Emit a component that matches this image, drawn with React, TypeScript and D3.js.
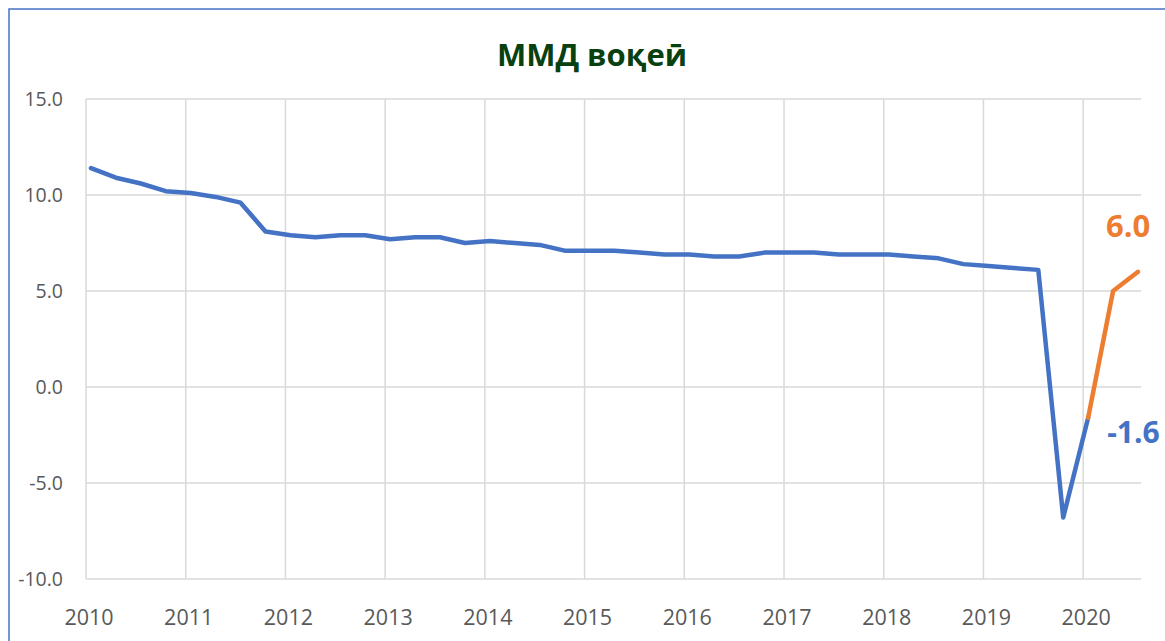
import React from "react";
import * as d3 from "d3";

const years = [2010, 2011, 2012, 2013, 2014, 2015, 2016, 2017, 2018, 2019, 2020];
const yTicks = [-10, -5, 0, 5, 10, 15];
const actualValues = [
  11.4, 10.9, 10.6, 10.2,
  10.1, 9.9, 9.6, 8.1,
  7.9, 7.8, 7.9, 7.9,
  7.7, 7.8, 7.8, 7.5,
  7.6, 7.5, 7.4, 7.1,
  7.1, 7.1, 7.0, 6.9,
  6.9, 6.8, 6.8, 7.0,
  7.0, 7.0, 6.9, 6.9,
  6.9, 6.8, 6.7, 6.4,
  6.3, 6.2, 6.1, -6.8,
  -1.6,
];
const forecastValues = [-1.6, 5.0, 6.0];
const startYear = 2010;
const forecastStartIndex = 40;
const title = "ММД воқеӣ";
const actualLabel = "-1.6";
const forecastLabel = "6.0";

const W = 1165;
const H = 641;
const FONT = "'Open Sans', 'Noto Sans', sans-serif";

export default function App() {
  const x = d3.scaleLinear().domain([2010, 2020.58]).range([86, 1141]);
  const y = d3.scaleLinear().domain([-10, 15]).range([579, 99]);
  const tOf = (i: number) => startYear + 0.05 + 0.25 * i;

  const actualPts: [number, number][] = actualValues.map((v, i) => [x(tOf(i)), y(v)]);
  const forecastPts: [number, number][] = forecastValues.map((v, i) => [
    x(tOf(forecastStartIndex + i)),
    y(v),
  ]);
  const line = d3.line<[number, number]>();

  const lastA = actualPts[actualPts.length - 1];
  const lastF = forecastPts[forecastPts.length - 1];

  return (
    <svg
      width={W}
      height={H}
      style={{ position: "absolute", left: 0, top: 0, background: "#fff" }}
    >
      <rect x={0} y={0} width={W} height={H} fill="#fff" />
      <rect x={9} y={9} width={W + 20} height={H + 20} fill="none" stroke="#4472C4" strokeWidth={1.5} />
      <text
        x={592}
        y={66}
        textAnchor="middle"
        fontFamily={FONT}
        fontWeight={700}
        fontSize={31}
        fill="#084010"
      >
        {title}
      </text>
      {yTicks.map((t) => (
        <g key={"y" + t}>
          <line x1={86} x2={1141} y1={y(t)} y2={y(t)} stroke="#D9D9D9" strokeWidth={1.5} />
          <text
            x={63}
            y={y(t) + 7}
            textAnchor="end"
            fontFamily={FONT}
            fontSize={19.5}
            fill="#595959"
          >
            {t.toFixed(1)}
          </text>
        </g>
      ))}
      {years.map((yr) => (
        <g key={"x" + yr}>
          <line x1={x(yr)} x2={x(yr)} y1={y(15)} y2={y(-10)} stroke="#D9D9D9" strokeWidth={1.5} />
          <text
            x={x(yr + 0.03)}
            y={625}
            textAnchor="middle"
            fontFamily={FONT}
            fontSize={21.5}
            fill="#595959"
          >
            {yr}
          </text>
        </g>
      ))}
      <path
        d={line(actualPts) || ""}
        fill="none"
        stroke="#4472C4"
        strokeWidth={4.5}
        strokeLinejoin="round"
        strokeLinecap="round"
      />
      <path
        d={line(forecastPts) || ""}
        fill="none"
        stroke="#ED7D31"
        strokeWidth={4.5}
        strokeLinejoin="round"
        strokeLinecap="round"
      />
      <text
        x={lastA[0] + 19}
        y={lastA[1] + 25}
        fontFamily={FONT}
        fontWeight={700}
        fontSize={30}
        fill="#4472C4"
      >
        {actualLabel}
      </text>
      <text
        x={lastF[0] - 32}
        y={lastF[1] - 35}
        fontFamily={FONT}
        fontWeight={700}
        fontSize={31}
        fill="#ED7D31"
      >
        {forecastLabel}
      </text>
    </svg>
  );
}
